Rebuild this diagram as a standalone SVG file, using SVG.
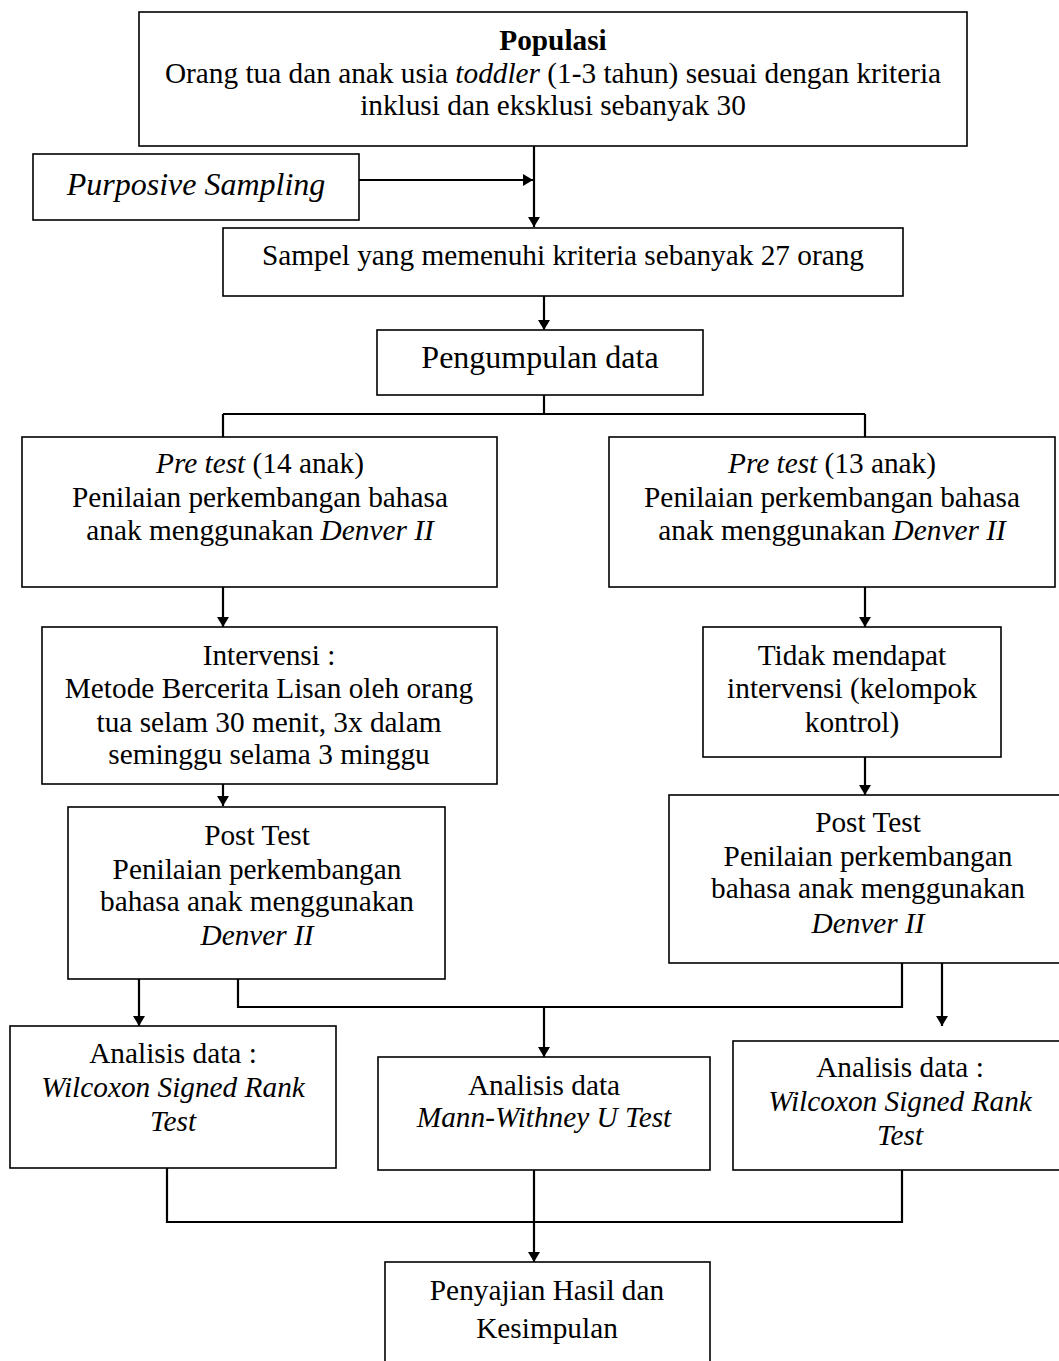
<svg xmlns="http://www.w3.org/2000/svg" width="1059" height="1361" viewBox="0 0 1059 1361">
<style>
.box{fill:#fff;stroke:#000;stroke-width:1.6}
.t{font-family:"Liberation Serif","Times New Roman",serif;font-size:29.3px;fill:#000;text-anchor:middle}
.big{font-size:32px}
.i{font-style:italic}
.b{font-weight:bold}
.c{fill:none;stroke:#000;stroke-width:2.2}
</style>
<defs>
<marker id="ah" viewBox="0 0 10 12" refX="10" refY="6" markerWidth="10" markerHeight="12" markerUnits="userSpaceOnUse" orient="auto">
<path d="M0,0 L10,6 L0,12 z" fill="#000"/>
</marker>
</defs>
<rect width="1059" height="1361" fill="#fff"/>

<g id="connectors">
<line class="c" x1="534" y1="146" x2="534" y2="227" marker-end="url(#ah)"/>
<line class="c" x1="359" y1="180" x2="533" y2="180" marker-end="url(#ah)"/>
<line class="c" x1="544" y1="296" x2="544" y2="330" marker-end="url(#ah)"/>
<path class="c" d="M544,395 V414 M223,414 H865 M223,414 V437 M865,414 V437"/>
<line class="c" x1="223" y1="587" x2="223" y2="627" marker-end="url(#ah)"/>
<line class="c" x1="865" y1="587" x2="865" y2="627" marker-end="url(#ah)"/>
<line class="c" x1="223" y1="767" x2="223" y2="806" marker-end="url(#ah)"/>
<line class="c" x1="865" y1="752" x2="865" y2="795" marker-end="url(#ah)"/>
<line class="c" x1="139" y1="971" x2="139" y2="1026" marker-end="url(#ah)"/>
<path class="c" d="M238,971 V1007 H902 V963"/>
<line class="c" x1="544" y1="1007" x2="544" y2="1057" marker-end="url(#ah)"/>
<line class="c" x1="942" y1="963" x2="942" y2="1026" marker-end="url(#ah)"/>
<path class="c" d="M167,1168 V1222 H902 V1170"/>
<line class="c" x1="534" y1="1170" x2="534" y2="1262" marker-end="url(#ah)"/>
</g>

<g id="populasi">
<rect class="box" x="139" y="12" width="828" height="134"/>
<text class="t b" x="553" y="50">Populasi</text>
<text class="t" x="553" y="83">Orang tua dan anak usia <tspan class="i">toddler</tspan> (1-3 tahun) sesuai dengan kriteria</text>
<text class="t" x="553" y="115">inklusi dan eksklusi sebanyak 30</text>
</g>

<g id="purposive">
<rect class="box" x="33" y="154" width="326" height="66"/>
<text class="t big i" x="196" y="195">Purposive Sampling</text>
</g>

<g id="sampel">
<rect class="box" x="223" y="228" width="680" height="68"/>
<text class="t" x="563" y="265">Sampel yang memenuhi kriteria sebanyak 27 orang</text>
</g>

<g id="pengumpulan">
<rect class="box" x="377" y="330" width="326" height="65"/>
<text class="t big" x="540" y="368">Pengumpulan data</text>
</g>

<g id="pretest-left">
<rect class="box" x="22" y="437" width="475" height="150"/>
<text class="t" x="260" y="473"><tspan class="i">Pre test</tspan> (14 anak)</text>
<text class="t" x="260" y="507">Penilaian perkembangan bahasa</text>
<text class="t" x="260" y="540">anak menggunakan <tspan class="i">Denver II</tspan></text>
</g>

<g id="pretest-right">
<rect class="box" x="609" y="437" width="446" height="150"/>
<text class="t" x="832" y="473"><tspan class="i">Pre test</tspan> (13 anak)</text>
<text class="t" x="832" y="507">Penilaian perkembangan bahasa</text>
<text class="t" x="832" y="540">anak menggunakan <tspan class="i">Denver II</tspan></text>
</g>

<g id="intervensi">
<rect class="box" x="42" y="627" width="455" height="157"/>
<text class="t" x="269" y="665">Intervensi :</text>
<text class="t" x="269" y="698">Metode Bercerita Lisan oleh orang</text>
<text class="t" x="269" y="732">tua selam 30 menit, 3x dalam</text>
<text class="t" x="269" y="764">seminggu selama 3 minggu</text>
</g>

<g id="kontrol">
<rect class="box" x="703" y="627" width="298" height="130"/>
<text class="t" x="852" y="665">Tidak mendapat</text>
<text class="t" x="852" y="698">intervensi (kelompok</text>
<text class="t" x="852" y="732">kontrol)</text>
</g>

<g id="posttest-left">
<rect class="box" x="68" y="807" width="377" height="172"/>
<text class="t" x="257" y="845">Post Test</text>
<text class="t" x="257" y="879">Penilaian perkembangan</text>
<text class="t" x="257" y="911">bahasa anak menggunakan</text>
<text class="t i" x="257" y="945">Denver II</text>
</g>

<g id="posttest-right">
<rect class="box" x="669" y="795" width="400" height="168"/>
<text class="t" x="868" y="832">Post Test</text>
<text class="t" x="868" y="866">Penilaian perkembangan</text>
<text class="t" x="868" y="898">bahasa anak menggunakan</text>
<text class="t i" x="868" y="933">Denver II</text>
</g>

<g id="analisis-left">
<rect class="box" x="10" y="1026" width="326" height="142"/>
<text class="t" x="173" y="1063">Analisis data :</text>
<text class="t i" x="173" y="1097">Wilcoxon Signed Rank</text>
<text class="t i" x="173" y="1131">Test</text>
</g>

<g id="analisis-mid">
<rect class="box" x="378" y="1057" width="332" height="113"/>
<text class="t" x="544" y="1095">Analisis data</text>
<text class="t i" x="544" y="1127">Mann-Withney U Test</text>
</g>

<g id="analisis-right">
<rect class="box" x="733" y="1041" width="336" height="129"/>
<text class="t" x="900" y="1077">Analisis data :</text>
<text class="t i" x="900" y="1111">Wilcoxon Signed Rank</text>
<text class="t i" x="900" y="1145">Test</text>
</g>

<g id="penyajian">
<rect class="box" x="385" y="1262" width="325" height="120"/>
<text class="t" x="547" y="1300">Penyajian Hasil dan</text>
<text class="t" x="547" y="1338">Kesimpulan</text>
</g>
</svg>
